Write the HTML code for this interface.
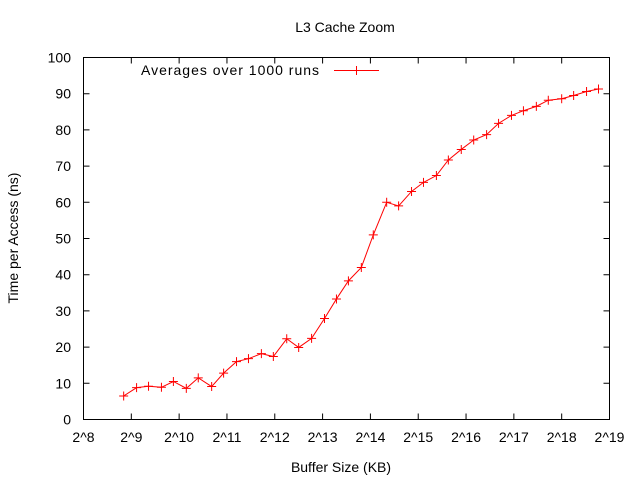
<!DOCTYPE html>
<html><head><meta charset="utf-8"><style>
body{margin:0;background:#fff}
svg{display:block;font-family:"Liberation Sans",sans-serif;font-size:14px}
</style></head><body>
<svg id="chart" width="640" height="480">
<text x="345" y="32" text-anchor="middle">L3 Cache Zoom</text>
<text x="341" y="472" text-anchor="middle">Buffer Size (KB)</text>
<text transform="translate(18,238) rotate(-90)" text-anchor="middle">Time per Access (ns)</text>
<rect x="83.5" y="57.5" width="526" height="362" fill="none" stroke="#000"/>
<g id="axes"></g>
<g>
<text x="141" y="75" textLength="178" lengthAdjust="spacing">Averages over 1000 runs</text>
<line x1="334" y1="70.5" x2="379" y2="70.5" stroke="#f00"/>
<path d="M356.5,66v9M352,70.5h9" stroke="#f00"/>
</g>
<g id="series"></g>
</svg>
<script>
const log2Sizes=[8.84,9.11,9.36,9.63,9.88,10.15,10.40,10.68,10.93,11.20,11.45,11.72,11.97,12.25,12.50,12.77,13.04,13.29,13.54,13.81,14.06,14.34,14.59,14.86,15.11,15.38,15.63,15.90,16.16,16.43,16.68,16.95,17.20,17.47,17.72,18.00,18.25,18.52,18.77];
const times=[6.5,8.8,9.2,8.9,10.5,8.6,11.5,9.1,12.8,16,16.8,18.2,17.4,22.3,19.9,22.4,27.9,33.3,38.3,42,51,60,59,63,65.5,67.4,71.7,74.6,77.2,78.7,81.8,84,85.3,86.5,88.2,88.6,89.5,90.6,91.3];
const xTicks=[8,9,10,11,12,13,14,15,16,17,18,19];
const yTicks=[0,10,20,30,40,50,60,70,80,90,100];
const X=v=>83.5+(v-8)*526/11, Y=v=>419.5-v*3.62;
const NS="http://www.w3.org/2000/svg";
const ax=document.getElementById('axes'), se=document.getElementById('series');
function mk(t,a,p){const e=document.createElementNS(NS,t);for(const k in a)e.setAttribute(k,a[k]);p.appendChild(e);return e;}
xTicks.forEach(t=>{
 const x=X(t);
 const l=mk('path',{d:`M${x},419.5v-6M${x},57.5v6`,stroke:'#000'},ax);
 
 
 const tx=mk('text',{x:x,y:442,'text-anchor':'middle'},ax);tx.textContent='2^'+t;
 
 
});
yTicks.forEach(t=>{
 const y=Y(t);
 const l=mk('path',{d:`M83.5,${y}h6M609.5,${y}h-6`,stroke:'#000'},ax);
 
 
 const tx=mk('text',{x:71,y:y+5,'text-anchor':'end'},ax);tx.textContent=t;
 
 
});
const pts=log2Sizes.map((v,i)=>[X(v),Y(times[i])]);
const line=mk('polyline',{points:pts.map(p=>p.join(',')).join(' '),fill:'none',stroke:'#f00'},se);


pts.forEach(p=>{
 const m=mk('path',{d:`M${p[0]},${p[1]-4.5}v9M${p[0]-4.5},${p[1]}h9`,stroke:'#f00'},se);
 
 
});
</script>
</body></html>
